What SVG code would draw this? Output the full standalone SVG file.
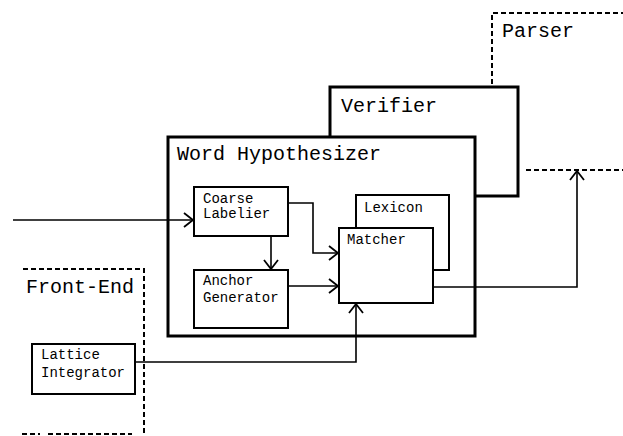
<svg xmlns="http://www.w3.org/2000/svg" width="623" height="436" viewBox="0 0 623 436">
<style>
.big{font-family:"Liberation Mono","DejaVu Sans Mono",monospace;font-size:20px;fill:#000}
.sm{font-family:"Liberation Mono","DejaVu Sans Mono",monospace;font-size:14px;fill:#000}
.thick{fill:#fff;stroke:#000;stroke-width:3}
.box{fill:#fff;stroke:#000;stroke-width:2}
.dash{fill:none;stroke:#000;stroke-width:2;stroke-dasharray:5 3}
.conn{fill:none;stroke:#000;stroke-width:1.6}
</style>
<defs>
<marker id="arr" markerUnits="userSpaceOnUse" markerWidth="20" markerHeight="20" refX="0" refY="0" viewBox="-12 -10 14 20" orient="auto">
<path d="M-9,-7 L0,0 L-9,7" fill="none" stroke="#000" stroke-width="1.8"/>
</marker>
</defs>
<g id="parser">
<path class="dash" d="M492,84 V13 H623"/>
<path class="dash" d="M526,170 H623"/>
<text class="big" x="502" y="37">Parser</text>
</g>
<g id="front-end">
<path class="dash" d="M23,269 H144 V436"/>
<path class="dash" d="M22,434 H40 M48,434 H132"/>
<text class="big" x="26" y="293">Front-End</text>
</g>
<g id="verifier">
<rect class="thick" x="330" y="87" width="188" height="109"/>
<text class="big" x="341" y="112">Verifier</text>
</g>
<g id="word-hypothesizer">
<rect class="thick" x="168" y="137" width="307" height="199"/>
<text class="big" x="177" y="160">Word Hypothesizer</text>
</g>
<g id="coarse-labelier">
<rect class="box" x="194" y="187" width="94" height="49"/>
<text class="sm" x="203" y="203">Coarse</text>
<text class="sm" x="203" y="218">Labelier</text>
</g>
<g id="anchor-generator">
<rect class="box" x="194" y="270" width="94" height="58"/>
<text class="sm" x="203" y="285">Anchor</text>
<text class="sm" x="203" y="302">Generator</text>
</g>
<g id="lexicon">
<rect class="box" x="356" y="195" width="93" height="75"/>
<text class="sm" x="364" y="212">Lexicon</text>
</g>
<g id="matcher">
<rect class="box" x="339" y="228" width="94" height="75"/>
<text class="sm" x="347" y="244">Matcher</text>
</g>
<g id="lattice-integrator">
<rect class="box" x="32" y="344" width="103" height="50"/>
<text class="sm" x="41" y="359">Lattice</text>
<text class="sm" x="41" y="377">Integrator</text>
</g>
<g id="connectors">
<path class="conn" d="M13,220 H193" marker-end="url(#arr)"/>
<path class="conn" d="M271,236 V269" marker-end="url(#arr)"/>
<path class="conn" d="M288,203 H313 V253 H338" marker-end="url(#arr)"/>
<path class="conn" d="M288,286 H338" marker-end="url(#arr)"/>
<path class="conn" d="M135,362 H356 V304" marker-end="url(#arr)"/>
<path class="conn" d="M433,287 H577 V171" marker-end="url(#arr)"/>
</g>
</svg>
